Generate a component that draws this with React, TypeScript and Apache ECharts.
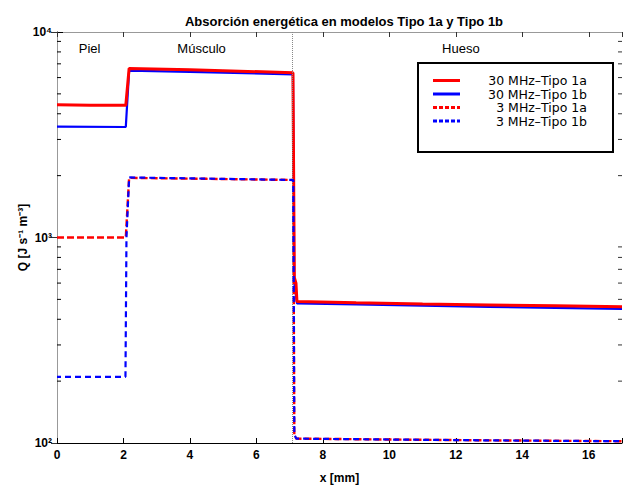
import React, { useEffect, useRef } from "react";
import * as echarts from "echarts";

const FONT = '"Liberation Sans", Arial, Helvetica, sans-serif';
const LEGEND_FONT = '"DejaVu Sans", "Liberation Sans", sans-serif';

const titleText = "Absorción energética en modelos Tipo 1a y Tipo 1b";
const xAxisName = "x [mm]";
const yAxisName = "Q [J s⁻¹ m⁻³]";
const seriesNames = ["30 MHz–Tipo 1a", "30 MHz–Tipo 1b", "3 MHz–Tipo 1a", "3 MHz–Tipo 1b"];
const seriesColors = ["#ff0000", "#0000ff", "#ff0000", "#0000ff"];

// 30 MHz – Tipo 1a
const x30a = [0, 1.0, 2.07, 2.17, 4.0, 7.1, 7.14, 7.19, 7.22, 9, 11, 13, 15, 17];
const q30a = [4420, 4400, 4400, 6650, 6550, 6340, 640, 600, 488, 481, 475, 470, 465, 460];
// 30 MHz – Tipo 1b
const x30b = [0, 2.07, 2.17, 4.0, 7.1, 7.14, 7.22, 9, 11, 13, 15, 17];
const q30b = [3460, 3450, 6480, 6400, 6225, 600, 478, 472, 466, 460, 455, 449];
// 3 MHz – Tipo 1a
const x3a = [0, 2.07, 2.17, 4.5, 7.11, 7.14, 7.2, 10, 13, 17];
const q3a = [1000, 1000, 1950, 1930, 1905, 110, 105, 104, 103, 102];
// 3 MHz – Tipo 1b
const x3b = [0, 2.06, 2.09, 2.17, 4.5, 7.11, 7.14, 7.2, 10, 13, 17];
const q3b = [210, 210, 1000, 1960, 1935, 1905, 110, 105, 104, 103, 102];

const regionLabels = ["Piel", "Músculo", "Hueso"];
const regionLabelX = [0.98, 4.35, 12.15];
const regionLabelQ = 8300;
const boundaryX = 7.09;
const minorTickValues = [200, 300, 400, 500, 600, 700, 800, 900, 2000, 3000, 4000, 5000, 6000, 7000, 8000, 9000];
const superscripts: Record<string, string> = { "2": "²", "3": "³", "4": "⁴" };

const GRID_LEFT = 57;
const GRID_RIGHT = 2;
const GRID_TOP = 32;
const GRID_BOTTOM = 44;
const W = 624;
const H = 487;

function pairs(xs: number[], ys: number[]) {
  return xs.map((x, i) => [x, ys[i]]);
}

export default function App() {
  const ref = useRef<HTMLDivElement>(null);
  useEffect(() => {
    const chart = echarts.init(ref.current!, null, { renderer: "svg" });
    const axisLabelStyle = { color: "#000", fontSize: 12, fontWeight: "bold", fontFamily: FONT };
    const option: any = {
      animation: false,
      backgroundColor: "#fff",
      title: {
        text: titleText,
        left: 339,
        top: 10,
        textAlign: "center",
        textStyle: { fontSize: 13, fontWeight: "bold", color: "#000", fontFamily: FONT },
      },
      grid: { left: GRID_LEFT, right: GRID_RIGHT, top: GRID_TOP, bottom: GRID_BOTTOM, containLabel: false, outerBoundsMode: "none" },
      xAxis: [
        {
          type: "value",
          position: "bottom",
          min: 0,
          max: 17,
          interval: 2,
          name: xAxisName,
          nameLocation: "middle",
          nameGap: 29,
          nameMoveOverlap: false,
          nameTextStyle: { ...axisLabelStyle },
          axisLine: { show: true, lineStyle: { color: "#000", width: 1 } },
          axisTick: { show: true, inside: true, length: 5, lineStyle: { color: "#000" } },
          axisLabel: { ...axisLabelStyle, margin: 6, formatter: (v: number) => (v % 2 === 0 ? String(v) : "") },
          splitLine: { show: false },
        },
        {
          type: "value",
          position: "top",
          min: 0,
          max: 17,
          interval: 2,
          axisLine: { show: true, lineStyle: { color: "#999", width: 1 } },
          axisTick: { show: true, inside: true, length: 5, lineStyle: { color: "#333" } },
          axisLabel: { show: false },
          splitLine: { show: false },
        },
      ],
      yAxis: [
        {
          type: "log",
          logBase: 10,
          position: "left",
          min: 100,
          max: 10000,
          interval: 1,
          name: yAxisName,
          nameLocation: "middle",
          nameGap: 28,
          nameMoveOverlap: false,
          nameTextStyle: { ...axisLabelStyle },
          axisLine: { show: true, lineStyle: { color: "#000", width: 1 } },
          axisTick: { show: true, inside: true, length: 6, lineStyle: { color: "#000" } },
          axisLabel: {
            ...axisLabelStyle,
            margin: 5,
            formatter: (v: number) => {
              const e = String(Math.round(Math.log10(v)));
              return "10" + (superscripts[e] || e);
            },
          },
          splitLine: { show: false },
        },
        {
          type: "log",
          logBase: 10,
          position: "right",
          min: 100,
          max: 10000,
          interval: 1,
          axisLine: { show: true, lineStyle: { color: "#999", width: 1 } },
          axisTick: { show: true, inside: true, length: 6, lineStyle: { color: "#333" } },
          axisLabel: { show: false },
          splitLine: { show: false },
        },
      ],
      series: [
        {
          name: seriesNames[1],
          type: "line",
          data: pairs(x30b, q30b),
          showSymbol: false,
          symbol: "none",
          lineStyle: { color: seriesColors[1], width: 2.2 },
          markLine: {
            silent: true,
            symbol: "none",
            label: { show: false },
            lineStyle: { color: "#888", type: "dotted", width: 1 },
            data: [{ xAxis: boundaryX }],
          },
          z: 2,
        },
        {
          name: seriesNames[0],
          type: "line",
          data: pairs(x30a, q30a),
          showSymbol: false,
          symbol: "none",
          lineStyle: { color: seriesColors[0], width: 3 },
          z: 3,
        },
        {
          name: seriesNames[2],
          type: "line",
          data: pairs(x3a, q3a),
          showSymbol: false,
          symbol: "none",
          lineStyle: { color: seriesColors[2], width: 2.4, type: [7, 3] },
          z: 4,
        },
        {
          name: seriesNames[3],
          type: "line",
          data: pairs(x3b, q3b),
          showSymbol: false,
          symbol: "none",
          lineStyle: { color: seriesColors[3], width: 2.2, type: [6, 4], dashOffset: 2 },
          z: 5,
        },
      ],
    };
    chart.setOption(option);

    const graphics: any[] = [];
    const leftX = GRID_LEFT;
    const rightX = W - GRID_RIGHT;
    minorTickValues.forEach((v) => {
      const y = chart.convertToPixel({ yAxisIndex: 0 }, v) as number;
      graphics.push({
        type: "line",
        silent: true,
        shape: { x1: leftX, y1: y, x2: leftX + 4, y2: y },
        style: { stroke: "#000", lineWidth: 1 },
        z: 10,
      });
      graphics.push({
        type: "line",
        silent: true,
        shape: { x1: rightX - 4, y1: y, x2: rightX, y2: y },
        style: { stroke: "#333", lineWidth: 1 },
        z: 10,
      });
    });

    regionLabels.forEach((label, i) => {
      const px = chart.convertToPixel({ xAxisIndex: 0, yAxisIndex: 0 }, [regionLabelX[i], regionLabelQ]) as number[];
      graphics.push({
        type: "text",
        x: px[0],
        y: px[1],
        silent: true,
        z: 20,
        style: {
          text: label,
          fontSize: 13,
          fontFamily: FONT,
          fill: "#000",
          align: "center",
          verticalAlign: "middle",
          textAlign: "center",
          textVerticalAlign: "middle",
        },
      });
    });

    // legend box
    const boxX = 418, boxY = 63, boxW = 195, boxH = 89;
    const rowY = [80.5, 94, 107.5, 121];
    graphics.push({
      type: "rect",
      silent: true,
      z: 30,
      shape: { x: boxX, y: boxY, width: boxW, height: boxH },
      style: { fill: "#fff", stroke: "#000", lineWidth: 2 },
    });
    seriesNames.forEach((name, i) => {
      graphics.push({
        type: "line",
        silent: true,
        z: 31,
        shape: { x1: 433, y1: rowY[i], x2: 460, y2: rowY[i] },
        style: { stroke: seriesColors[i], lineWidth: 3, lineDash: i >= 2 ? [4, 2] : null },
      });
      graphics.push({
        type: "text",
        silent: true,
        z: 31,
        x: 587,
        y: rowY[i],
        style: {
          text: name,
          fontSize: 12.5,
          lineHeight: 13,
          fontFamily: LEGEND_FONT,
          fill: "#000",
          align: "right",
          verticalAlign: "middle",
          textAlign: "right",
          textVerticalAlign: "middle",
        },
      });
    });

    chart.setOption({ graphic: graphics });

    return () => {
      chart.dispose();
    };
  }, []);

  return (
    <div
      ref={ref}
      style={{ position: "fixed", left: 0, top: 0, width: W, height: H, background: "#fff" }}
    />
  );
}
